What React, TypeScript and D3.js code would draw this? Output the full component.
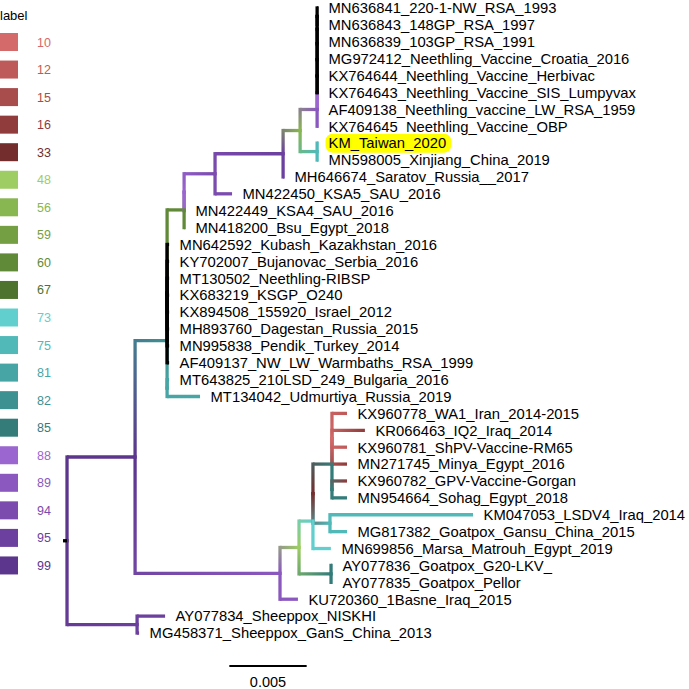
import React, { useEffect, useRef } from "react";
import * as d3 from "d3";

// Tree as a node table (parent, branch length in substitutions/site, bootstrap label)
const nodeNames: string[] = [
  "root", "B", "SP", "L", "C", "N1", "K", "M",
  "MN642592_Kubash_Kazakhstan_2016", "KY702007_Bujanovac_Serbia_2016", "MT130502_Neethling-RIBSP", "KX683219_KSGP_O240",
  "KX894508_155920_Israel_2012", "MH893760_Dagestan_Russia_2015", "MN995838_Pendik_Turkey_2014", "AF409137_NW_LW_Warmbaths_RSA_1999",
  "M2", "MN418200_Bsu_Egypt_2018", "Q", "MN422449_KSA4_SAU_2016", "R", "MN422450_KSA5_SAU_2016", "S", "MH646674_Saratov_Russia__2017",
  "T", "U", "n6", "KX764645_Neethling_Vaccine_OBP", "n5", "AF409138_Neethling_vaccine_LW_RSA_1959", "n4", "KX764643_Neethling_Vaccine_SIS_Lumpyvax",
  "n3", "KX764644_Neethling_Vaccine_Herbivac", "n2", "MG972412_Neethling_Vaccine_Croatia_2016", "n1", "MN636839_103GP_RSA_1991",
  "MN636841_220-1-NW_RSA_1993", "MN636843_148GP_RSA_1997", "KM_Taiwan_2020", "MN598005_Xinjiang_China_2019",
  "MT643825_210LSD_249_Bulgaria_2016", "MT134042_Udmurtiya_Russia_2019",
  "C2", "KU720360_1Basne_Iraq_2015", "D", "AYn", "D1", "MN699856_Marsa_Matrouh_Egypt_2019", "E", "H", "E1", "E2",
  "KX960778_WA1_Iran_2014-2015", "KR066463_IQ2_Iraq_2014", "KX960781_ShPV-Vaccine-RM65", "MN271745_Minya_Egypt_2016",
  "KX960782_GPV-Vaccine-Gorgan", "MN954664_Sohag_Egypt_2018", "KM047053_LSDV4_Iraq_2014", "MG817382_Goatpox_Gansu_China_2015",
  "AY077836_Goatpox_G20-LKV_", "AY077835_Goatpox_Pellor", "AY077834_Sheeppox_NISKHI", "MG458371_Sheeppox_GanS_China_2013",
];
const nodeParents: (string | null)[] = [
  null, "root", "root", "B", "B", "L", "L", "N1",
  "N1", "N1", "N1", "N1",
  "N1", "N1", "N1", "N1",
  "M", "M", "M2", "M2", "Q", "Q", "R", "R",
  "S", "S", "T", "T", "n6", "n6", "n5", "n5",
  "n4", "n4", "n3", "n3", "n2", "n2",
  "n1", "n1", "U", "U",
  "K", "K",
  "C", "C", "C2", "C2", "D", "D", "D1", "D1", "E", "E",
  "E1", "E1", "E1", "E1",
  "E2", "E2", "H", "H",
  "AYn", "AYn", "SP", "SP",
];
const branchLengths: number[] = [
  0.00026, 0.0044, 0.00453, 0.00207, 0.00937, 0, 0, 0.0011,
  0.00013, 0.00013, 0.00013, 0.00013,
  0.00013, 0.00013, 0.00013, 0.00013,
  0, 0.00006, 0.002, 0.00006, 0.0044, 0.0011, 0.0011, 0.00006,
  0.0011, 0.0011, 0, 0.00006, 0, 0.00006, 0, 0.00006,
  0, 0.00006, 0, 0.00006, 0, 0.00006,
  0.00006, 0.00006, 0.00006, 0.00006,
  0.00013, 0.00213,
  0.00123, 0.00116, 0.0009, 0.00207, 0, 0.00116, 0.00123, 0.0011, 0, 0,
  0.00097, 0.00213, 0.00097, 0.00097,
  0.00097, 0.00097, 0.00925, 0.0011,
  0.00006, 0.00006, 0.00181, 0.00013,
];
const nodeSupport: (number | null)[] = [
  99, 99, 95, 82, 89, null, 81, 60,
  null, null, null, null,
  null, null, null, null,
  88, null, 94, null, 95, null, 56, null,
  89, 75, 88, null, null, null, null, null,
  null, null, null, null, null, null,
  null, null, null, null,
  null, null,
  48, null, 73, 85, 33, null, 85, 75, 10, 85,
  12, 16, 12, 16,
  16, null, null, null,
  null, null, null, null,
];

const legendValues = [10, 12, 15, 16, 33, 48, 56, 59, 60, 67, 73, 75, 81, 82, 85, 88, 89, 94, 95, 99];
const legendColors = [
  "#d46a6a", "#bf5a5a", "#a84c4c", "#903c3c", "#742d2d",
  "#9dcd63", "#88b650", "#74a043", "#618a38", "#4e732e",
  "#62cfcf", "#52b9b9", "#47a5a5", "#3e9191", "#347c7a",
  "#9b66cf", "#8b58bf", "#7b4bae", "#6c409e", "#5c358d",
];
const legendTitle = "label";
const highlightTips = ["KM_Taiwan_2020"];
const scaleBarValue = 0.005;
const scaleBarLabel = "0.005";

const W = 689;
const H = 689;
const FONT = "'Liberation Sans', Arial, sans-serif";

export default function App() {
  const ref = useRef<SVGSVGElement>(null);

  useEffect(() => {
    const svg = d3.select(ref.current);
    svg.selectAll("*").remove();

    const n = nodeNames.length;
    const idx = new Map(nodeNames.map((nm, i) => [nm, i]));
    const children: number[][] = nodeNames.map(() => []);
    let rootI = 0;
    nodeParents.forEach((p, i) => {
      if (p === null) rootI = i;
      else children[idx.get(p)!].push(i);
    });
    const parentI = nodeParents.map((p) => (p === null ? -1 : idx.get(p)!));

    const depth = new Array(n).fill(0);
    const tipOrder: number[] = [];
    const walk = (i: number, d: number) => {
      depth[i] = d + branchLengths[i];
      if (!children[i].length) tipOrder.push(i);
      children[i].forEach((c) => walk(c, depth[i]));
    };
    walk(rootI, 0);

    const x = d3.scaleLinear().domain([0, 0.027]).range([63, 63 + 0.027 * 15467]);
    const y = d3.scaleLinear().domain([1, tipOrder.length]).range([8, 633]);
    const yPos = new Array(n).fill(0);
    tipOrder.forEach((t, k) => (yPos[t] = y(k + 1)));
    const setY = (i: number): number => {
      if (!children[i].length) return yPos[i];
      const v = d3.mean(children[i].map(setY)) as number;
      yPos[i] = v;
      return v;
    };
    setY(rootI);

    const color = d3.scaleOrdinal<number, string>().domain(legendValues).range(legendColors);
    const eff: (number | null)[] = new Array(n).fill(null);
    const setEff = (i: number, pe: number | null) => {
      const s = nodeSupport[i];
      eff[i] = s != null ? s : children[i].length ? null : pe;
      children[i].forEach((c) => setEff(c, eff[i]));
    };
    setEff(rootI, null);

    type Seg = { x1: number; y1: number; x2: number; y2: number; a: string; b: string; black: boolean; vert: boolean };
    const segs: Seg[] = [];
    const order: number[] = [];
    const dfs = (i: number) => { order.push(i); children[i].forEach(dfs); };
    dfs(rootI);

    order.forEach((i) => {
      const p = parentI[i];
      if (p < 0) {
        segs.push({ x1: x(0), y1: yPos[i], x2: x(depth[i]), y2: yPos[i], a: "#000", b: "#000", black: true, vert: false });
        return;
      }
      const px = x(depth[p]), py = yPos[p], cx = x(depth[i]), cy = yPos[i];
      const c0 = eff[p], c1 = eff[i];
      let a: string, b: string, black = false;
      if (c1 == null) { a = b = "#000"; black = true; }
      else if (c0 == null) { a = b = color(c1); }
      else { a = color(c0); b = color(c1); }
      const vl = Math.abs(cy - py), hl = Math.abs(cx - px);
      const tot = vl + hl || 1;
      const mid = d3.interpolateRgb(a, b)(vl / tot);
      if (vl > 0.01) segs.push({ x1: px, y1: py, x2: px, y2: cy, a, b: mid, black, vert: true });
      if (hl > 0.01) segs.push({ x1: px, y1: cy, x2: cx, y2: cy, a: mid, b, black, vert: false });
    });
    const drawSegs = [...segs.filter((s) => !s.black), ...segs.filter((s) => s.black)];

    const defs = svg.append("defs");
    const gTree = svg.append("g");
    drawSegs.forEach((s, k) => {
      let stroke = s.a;
      if (s.a !== s.b) {
        const id = "eg" + k;
        const lg = defs.append("linearGradient").attr("id", id).attr("gradientUnits", "userSpaceOnUse")
          .attr("x1", s.x1).attr("y1", s.y1).attr("x2", s.x2).attr("y2", s.y2);
        lg.append("stop").attr("offset", 0).attr("stop-color", s.a);
        lg.append("stop").attr("offset", 1).attr("stop-color", s.b);
        stroke = `url(#${id})`;
      }
      gTree.append("line")
        .attr("x1", s.x1).attr("y1", s.y1).attr("x2", s.x2).attr("y2", s.y2)
        .attr("stroke", stroke).attr("stroke-width", 3.3)
        .attr("stroke-linecap", s.vert ? "square" : "butt");
    });

    // tip labels
    const gLab = svg.append("g").attr("font-family", FONT).attr("font-size", 14.8);
    tipOrder.forEach((t) => {
      const name = nodeNames[t];
      const tx = x(depth[t]) + 10.5;
      const ty = yPos[t];
      const hl = highlightTips.includes(name);
      const rect = hl ? gLab.append("rect") : null;
      const txt = gLab.append("text").attr("x", tx).attr("y", ty).attr("dy", "0.36em").attr("fill", "#000").text(name);
      if (rect) {
        const bb = (txt.node() as SVGTextElement).getBBox();
        rect.attr("x", bb.x - 3).attr("y", ty - 9.5).attr("width", bb.width + 8).attr("height", 19)
          .attr("rx", 7).attr("fill", "#ffff00");
      }
    });

    // legend
    const gLeg = svg.append("g").attr("font-family", FONT);
    gLeg.append("text").attr("x", 0).attr("y", 20).attr("font-size", 13).attr("fill", "#000").text(legendTitle);
    const ly = d3.scaleLinear().domain([0, legendValues.length - 1]).range([42, 42 + 27.55 * (legendValues.length - 1)]);
    legendValues.forEach((v, k) => {
      gLeg.append("rect").attr("x", 0).attr("y", ly(k) - 9).attr("width", 18).attr("height", 18).attr("fill", color(v));
      gLeg.append("text").attr("x", 37).attr("y", ly(k)).attr("dy", "0.36em").attr("font-size", 12.5)
        .attr("fill", color(v)).text(String(v));
    });

    // scale bar
    const barW = x(scaleBarValue) - x(0);
    const barCx = 268;
    svg.append("line").attr("x1", barCx - barW / 2).attr("x2", barCx + barW / 2).attr("y1", 666).attr("y2", 666)
      .attr("stroke", "#000").attr("stroke-width", 2);
    svg.append("text").attr("x", barCx).attr("y", 682).attr("dy", "0.36em").attr("text-anchor", "middle")
      .attr("font-family", FONT).attr("font-size", 14.5).text(scaleBarLabel);
  }, []);

  return (
    <svg ref={ref} width={W} height={H} style={{ position: "absolute", left: 0, top: 0, background: "#fff" }} />
  );
}
